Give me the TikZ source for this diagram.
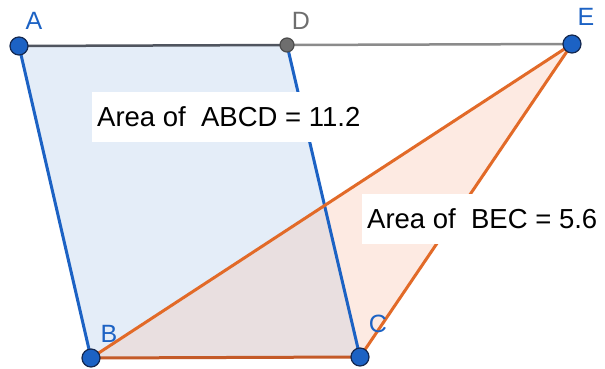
\documentclass[tikz,border=0pt]{standalone}
\usepackage{fontspec}
\setmainfont{Liberation Sans}
\definecolor{ggblue}{RGB}{28,98,196}
\definecolor{ggdark}{RGB}{20,40,80}
\definecolor{ggorange}{RGB}{226,106,40}
\definecolor{ggbrown}{RGB}{196,90,40}
\definecolor{gggray}{RGB}{110,110,110}
\definecolor{ggdgray}{RGB}{80,85,95}
\definecolor{fillblue}{RGB}{228,237,248}
\definecolor{fillpeach}{RGB}{253,234,226}
\definecolor{filloverlap}{RGB}{233,223,224}
\tikzset{
  pt/.style={circle, fill=ggblue, draw=ggdark, line width=1.2pt, inner sep=0pt, minimum size=18pt},
  gpt/.style={circle, fill=gggray, draw=black!70, line width=1.2pt, inner sep=0pt, minimum size=14pt},
  lbl/.style={font=\fontsize{25}{25}\selectfont, text=ggblue},
  glbl/.style={font=\fontsize{25}{25}\selectfont, text=gggray},
  areabox/.style={fill=white, anchor=west, inner xsep=5pt, minimum height=50pt, font=\fontsize{27.5}{27.5}\selectfont, text=black},
  blueline/.style={draw=ggblue, line width=3pt},
  orangeline/.style={draw=ggorange, line width=3pt},
}
\begin{document}
\begin{tikzpicture}[x=1pt,y=-1pt]
\useasboundingbox (0,0) rectangle (605,369);
\fill[white] (0,0) rectangle (605,369);
\coordinate (a) at (19,46);
\coordinate (d) at (287,45);
\coordinate (e) at (572,44);
\coordinate (b) at (91,358);
\coordinate (c) at (360,357);
\coordinate (x) at (intersection of b--e and d--c);
% fills
\fill[fillblue] (a) -- (d) -- (c) -- (b) -- cycle;
\fill[fillpeach] (b) -- (e) -- (c) -- cycle;
\fill[filloverlap] (b) -- (x) -- (c) -- cycle;
% lines
\draw[blueline] (a) -- (b);
\draw[blueline] (d) -- (c);
\draw[orangeline] (b) -- (e);
\draw[orangeline] (e) -- (c);
\draw[draw=ggbrown, line width=3pt] (b) -- (c);
\draw[draw=ggdgray, line width=2.5pt] (a) -- (d);
\draw[draw=gggray!80, line width=2.5pt] (d) -- (e);
% area labels
\node[areabox] (abcd) at (92,117) {Area of\ \ ABCD = 11.2};
\node[areabox] (bec) at (362,219) {Area of\ \ BEC = 5.6};
% points
\node[pt] (A) at (a) {};
\node[gpt] (D) at (d) {};
\node[pt] (E) at (e) {};
\node[pt] (B) at (b) {};
\node[pt] (C) at (c) {};
% point labels
\node[lbl] (lA) at (34,21) {A};
\node[glbl] (lD) at (301,21) {D};
\node[lbl] (lE) at (586,17) {E};
\node[lbl] (lB) at (109,334) {B};
\node[lbl] (lC) at (378,324) {C};
\end{tikzpicture}
\end{document}
